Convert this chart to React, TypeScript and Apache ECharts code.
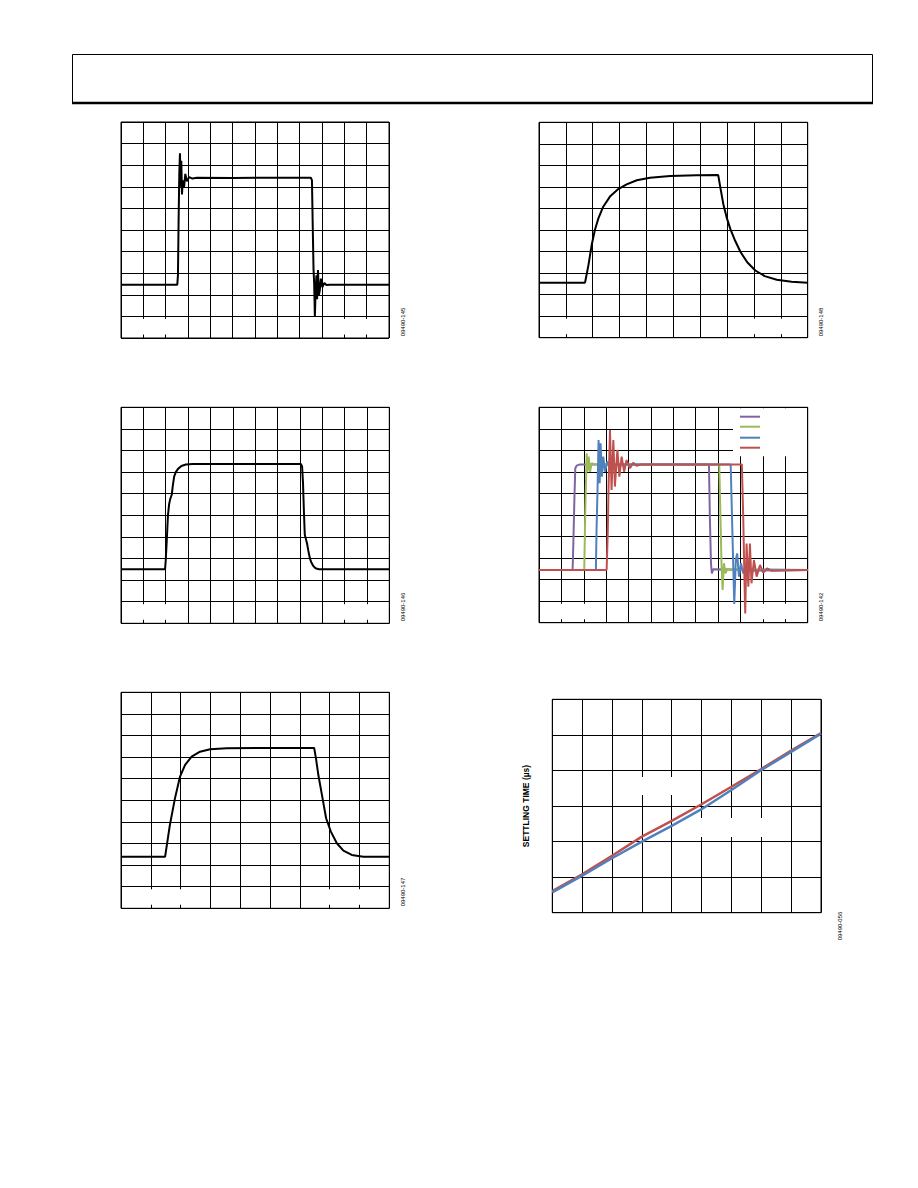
import React, { useEffect, useRef } from "react";
import * as echarts from "echarts";

// ---------- data (in screen divisions) ----------
// Chart 1 (top-left)
const c1Time = [0, 2.52, 2.55, 2.58, 2.61, 2.64, 2.67, 2.7, 2.73, 2.77, 2.82, 2.88, 2.95, 3.05, 3.2, 3.4, 5.0, 6.5, 8.5, 8.55, 8.58, 8.62, 8.65, 8.68, 8.71, 8.75, 8.78, 8.82, 8.86, 8.9, 8.95, 9.02, 9.1, 9.2, 9.35, 12];
const c1Volt = [2.47, 2.47, 2.9, 5.5, 7.6, 8.55, 7.0, 8.2, 6.65, 7.3, 6.95, 7.6, 7.25, 7.45, 7.38, 7.42, 7.41, 7.42, 7.42, 7.3, 5.5, 3.2, 2.5, 1.0, 2.0, 2.9, 1.8, 3.15, 2.0, 2.2, 2.75, 2.35, 2.55, 2.45, 2.47, 2.47];

// Chart 2 (top-right)
const c2Time = [0, 1.7, 1.72, 1.84, 1.96, 2.08, 2.21, 2.39, 2.64, 2.95, 3.26, 3.64, 4.13, 4.88, 5.87, 6.67, 6.76, 6.86, 6.98, 7.12, 7.3, 7.5, 7.75, 8.05, 8.4, 8.85, 9.4, 10];
const c2Volt = [2.55, 2.55, 2.6, 3.37, 4.3, 5.0, 5.54, 6.08, 6.55, 6.9, 7.12, 7.31, 7.43, 7.51, 7.54, 7.55, 6.9, 6.2, 5.6, 5.05, 4.5, 3.98, 3.5, 3.12, 2.86, 2.69, 2.6, 2.55];

// Chart 3 (middle-left)
const c3Time = [0, 1.97, 2.0, 2.05, 2.1, 2.15, 2.2, 2.27, 2.32, 2.38, 2.45, 2.55, 2.7, 2.9, 3.2, 5.5, 8.05, 8.1, 8.14, 8.18, 8.22, 8.27, 8.32, 8.38, 8.45, 8.52, 8.6, 8.7, 8.85, 12];
const c3Volt = [2.5, 2.5, 2.9, 3.9, 5.0, 5.5, 5.75, 5.95, 6.4, 6.8, 7.0, 7.15, 7.28, 7.35, 7.37, 7.37, 7.37, 7.25, 6.5, 5.2, 4.1, 3.9, 3.7, 3.35, 3.0, 2.8, 2.65, 2.55, 2.5, 2.5];

// Chart 4 (middle-right), four traces
const c4PurpleTime = [0, 1.5, 1.53, 1.58, 1.62, 1.68, 1.83, 5.0, 7.59, 7.63, 7.68, 7.72, 7.78, 12];
const c4PurpleVolt = [2.45, 2.45, 3.53, 5.7, 7.17, 7.29, 7.35, 7.35, 7.35, 4.92, 2.76, 2.29, 2.48, 2.45];
const c4GreenTime = [0, 2.02, 2.07, 2.13, 2.17, 2.22, 2.28, 2.35, 2.5, 5.0, 8.05, 8.11, 8.15, 8.2, 8.26, 8.33, 8.42, 8.5, 12];
const c4GreenVolt = [2.45, 2.45, 5.39, 7.86, 7.01, 7.71, 7.01, 7.4, 7.35, 7.35, 7.35, 4.6, 2.76, 1.52, 2.76, 2.29, 2.52, 2.45, 2.45];
const c4BlueTime = [0, 2.54, 2.57, 2.62, 2.66, 2.71, 2.75, 2.81, 2.87, 2.95, 3.05, 3.17, 3.32, 5.5, 8.56, 8.6, 8.68, 8.72, 8.79, 8.85, 8.93, 9.02, 9.12, 9.27, 9.42, 12];
const c4BlueVolt = [2.45, 2.45, 4.3, 6.47, 8.48, 6.47, 8.33, 6.78, 7.71, 7.01, 7.48, 7.24, 7.35, 7.35, 7.35, 5.7, 2.45, 0.87, 2.91, 3.22, 2.14, 2.76, 2.29, 2.52, 2.41, 2.45];
const c4RedTime = [0, 3.02, 3.07, 3.11, 3.17, 3.24, 3.32, 3.39, 3.5, 3.59, 3.69, 3.8, 3.91, 4.06, 4.21, 4.36, 4.58, 6.0, 9.06, 9.12, 9.17, 9.21, 9.27, 9.35, 9.42, 9.49, 9.6, 9.72, 9.87, 10.01, 10.19, 10.39, 12];
const c4RedVolt = [2.45, 2.45, 4.15, 6.47, 8.95, 6.16, 8.48, 6.32, 8.02, 6.78, 7.71, 7.01, 7.55, 7.17, 7.43, 7.29, 7.35, 7.35, 7.35, 4.92, 2.29, 0.43, 3.68, 1.67, 3.68, 1.83, 2.91, 2.14, 2.68, 2.32, 2.52, 2.41, 2.45];

// Chart 5 (bottom-left)
const c5Time = [0, 1.48, 1.64, 1.81, 1.98, 2.15, 2.37, 2.65, 2.99, 3.55, 5.0, 6.48, 6.54, 6.62, 6.74, 6.88, 7.04, 7.24, 7.46, 7.74, 8.13, 9];
const c5Volt = [2.39, 2.39, 3.86, 5.09, 6.1, 6.64, 7.02, 7.25, 7.36, 7.41, 7.42, 7.42, 6.94, 6.17, 5.25, 4.17, 3.55, 3.01, 2.67, 2.47, 2.39, 2.39];

// Chart 6 (bottom-right): settling time
const c6X = [0, 1, 2, 3, 4, 5, 6, 7, 8, 9];
const c6Red = [0.61, 1.08, 1.6, 2.14, 2.58, 3.05, 3.54, 4.04, 4.56, 5.05];
const c6Blue = [0.57, 1.04, 1.53, 2.0, 2.44, 2.91, 3.45, 4.01, 4.52, 5.03];

const figureCodes = ["09490-145", "09490-148", "09490-146", "09490-142", "09490-147", "09490-056"];
const yAxisTitle = "SETTLING TIME (\u00b5s)";

// ---------- layout ----------
const layouts = [
  { left: 121, top: 122, width: 268, height: 216, xDiv: 12, yDiv: 10, hide: [1, 2, 10, 11], codeX: 403, codeY: 322 },
  { left: 539, top: 122.3, width: 268.7, height: 215.4, xDiv: 10, yDiv: 10, hide: [1, 8, 9], codeX: 821, codeY: 322 },
  { left: 121, top: 407.3, width: 268.3, height: 216, xDiv: 12, yDiv: 10, hide: [1, 2, 10, 11], codeX: 403, codeY: 607 },
  { left: 539, top: 407.3, width: 268.7, height: 215.4, xDiv: 12, yDiv: 10, hide: [1, 2, 10, 11], codeX: 821, codeY: 607 },
  { left: 121, top: 692.3, width: 268.3, height: 216, xDiv: 9, yDiv: 10, hide: [1, 2, 7, 8], codeX: 403, codeY: 892 },
  { left: 552.3, top: 699.3, width: 268.7, height: 213.4, xDiv: 9, yDiv: 6, hide: [], codeX: 840, codeY: 926 },
];

const PURPLE = "#8064A2";
const GREEN = "#9BBB59";
const BLUE = "#4F81BD";
const RED = "#C0504D";

const zip = (a: number[], b: number[]) => a.map((v, i) => [v, b[i]]);

export default function App() {
  const ref = useRef<HTMLDivElement>(null);

  useEffect(() => {
    if (!ref.current) return;
    const chart = echarts.init(ref.current, undefined, { renderer: "svg" });

    const grid = layouts.map((l) => ({
      left: l.left,
      top: l.top,
      width: l.width,
      height: l.height,
      show: true,
      borderColor: "#000",
      borderWidth: 1,
      backgroundColor: "transparent",
    }));

    const axisCommon = {
      type: "value" as const,
      min: 0,
      interval: 1,
      axisLabel: { show: false },
      axisTick: { show: false },
      axisLine: { show: false },
      splitLine: { show: true, lineStyle: { color: "#000", width: 1 } },
      z: 0,
    };

    const xAxis = layouts.map((l, i) => ({ ...axisCommon, gridIndex: i, max: l.xDiv }));
    const yAxis: any[] = layouts.map((l, i) => ({ ...axisCommon, gridIndex: i, max: l.yDiv }));
    yAxis[5] = {
      ...yAxis[5],
      name: yAxisTitle,
      nameLocation: "middle",
      nameGap: 22,
      nameRotate: 90,
      nameTextStyle: { fontSize: 8.5, fontWeight: "bold", fontFamily: "Arial, 'Liberation Sans', sans-serif", color: "#000" },
    };

    const line = (idx: number, data: number[][], color: string, width = 2) => ({
      type: "line",
      xAxisIndex: idx,
      yAxisIndex: idx,
      data,
      showSymbol: false,
      symbol: "none",
      lineStyle: { color, width },
      z: 3,
    });

    const series = [
      line(0, zip(c1Time, c1Volt), "#000"),
      line(1, zip(c2Time, c2Volt), "#000"),
      line(2, zip(c3Time, c3Volt), "#000"),
      line(3, zip(c4PurpleTime, c4PurpleVolt), PURPLE),
      line(3, zip(c4GreenTime, c4GreenVolt), GREEN),
      line(3, zip(c4BlueTime, c4BlueVolt), BLUE),
      line(3, zip(c4RedTime, c4RedVolt), RED),
      line(4, zip(c5Time, c5Volt), "#000"),
      line(5, zip(c6X, c6Red), RED, 2.5),
      line(5, zip(c6X, c6Blue), BLUE, 2.5),
    ];

    const graphic: any[] = [];
    // page header box
    graphic.push({ type: "rect", z: 1, shape: { x: 72.5, y: 54.5, width: 800, height: 48 }, style: { fill: "none", stroke: "#000", lineWidth: 1 } });
    graphic.push({ type: "line", z: 1, shape: { x1: 72, y1: 103, x2: 873, y2: 103 }, style: { stroke: "#000", lineWidth: 2.5 } });

    // white masks in bottom rows (leave short ticks), figure codes
    layouts.forEach((l, i) => {
      const cw = l.width / l.xDiv;
      const ch = l.height / l.yDiv;
      const rowTop = l.top + l.height - ch;
      l.hide.forEach((k) => {
        graphic.push({
          type: "rect",
          z: 1,
          shape: { x: l.left + (k - 0.4) * cw, y: rowTop + 2.5, width: 0.8 * cw, height: ch - 6 },
          style: { fill: "#fff" },
        });
      });
      graphic.push({
        type: "text",
        z: 2,
        x: l.codeX,
        y: l.codeY,
        rotation: Math.PI / 2,
        style: { text: figureCodes[i], fontSize: 6, fill: "#000", align: "center", verticalAlign: "middle", fontFamily: "Arial, 'Liberation Sans', sans-serif" },
      });
    });

    // chart 4 legend area
    graphic.push({ type: "rect", z: 1, shape: { x: 733, y: 408.3, width: 74, height: 48 }, style: { fill: "#fff" } });
    [[416.7, PURPLE], [426.7, GREEN], [437.7, BLUE], [447.7, RED]].forEach(([y, c]) => {
      graphic.push({ type: "line", z: 2, shape: { x1: 740, y1: y, x2: 760, y2: y }, style: { stroke: c, lineWidth: 2 } });
    });

    // chart 6 annotation gaps
    graphic.push({ type: "rect", z: 1, shape: { x: 636, y: 777, width: 54, height: 18 }, style: { fill: "#fff" } });
    graphic.push({ type: "rect", z: 1, shape: { x: 697, y: 818, width: 72, height: 19 }, style: { fill: "#fff" } });

    chart.setOption({
      animation: false,
      backgroundColor: "#fff",
      grid,
      xAxis,
      yAxis,
      series,
      graphic,
    });

    return () => chart.dispose();
  }, []);

  return <div ref={ref} style={{ position: "absolute", left: 0, top: 0, width: 918, height: 1188 }} />;
}
